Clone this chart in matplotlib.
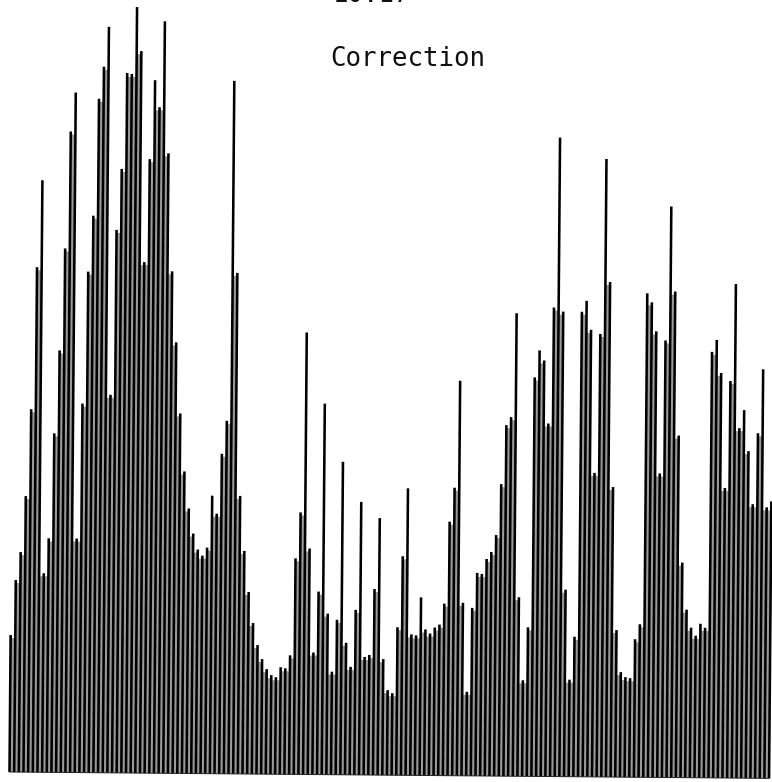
import matplotlib
matplotlib.use("Agg")
import matplotlib.pyplot as plt
import numpy as np
from matplotlib.transforms import Affine2D

heights = [
    137, 192, 220, 276, 363, 505, 592, 199, 234, 339, 422, 524, 641, 680,
    234, 369, 501, 557, 674, 706, 746, 378, 543, 604, 700, 699, 766, 722,
    511, 614, 693, 666, 752, 620, 502, 431, 360, 302, 265, 240, 224, 218,
    226, 278, 260, 320, 353, 693, 501, 278, 223, 182, 151, 129,
    115, 105, 99, 97, 107, 106, 119, 216, 262, 442, 226, 122, 183, 371,
    161, 103, 155, 313, 132, 108, 165, 273, 118, 120, 186, 257,
    116, 85, 82, 148, 219, 287, 141, 140, 178, 146, 142, 148, 151, 172,
    254, 288, 395, 173, 84, 168, 203, 202, 217, 224, 241, 292,
    351, 359, 463, 179, 96, 149, 399, 426, 416, 353, 469, 639, 465, 187,
    97, 140, 465, 476, 447, 304, 443, 618, 495, 290, 147,
    105, 100, 99, 138, 153, 484, 475, 446, 304, 437, 571, 486, 342, 215,
    168, 150, 142, 154, 150, 426, 438, 405, 290, 397, 494, 350, 368, 327,
    274, 345, 409, 271, 277,
]
title = "Correction"
page_mark = "10.17"

positions = np.arange(len(heights))
values = np.array(heights)

fig = plt.figure(figsize=(7.72, 7.82), dpi=100)
ax = fig.add_axes([0, 0, 1, 1])
ax.set_xlim(-9.5 / 4.66, (772 - 9.5) / 4.66)
ax.set_ylim(-10, 772)
ax.axis("off")

# the page was scanned slightly crooked, so turn everything about the first bar
cx, cy = ax.transData.transform((0, 0))
crooked = ax.transData + Affine2D().rotate_deg_around(cx, cy, -0.48)

gaps = np.minimum(values[:-1], values[1:]) - 3
ax.bar(positions[:-1] + 0.5, gaps, width=1.0, color="#9a9a9a", linewidth=0,
       transform=crooked, clip_on=False)
ax.vlines(positions, 0, values, color="black", linewidth=1.85,
          transform=crooked, clip_on=False)
ax.plot([positions[0], positions[-1]], [0, 0], color="#222222", linewidth=0.7,
        transform=crooked, clip_on=False)

fig.text(408 / 772, 1 - 65.5 / 782, title, family="DejaVu Sans Mono", fontsize=18.5,
         ha="center", va="baseline", color="#111111")
fig.text(372 / 772, 1 - 1.5 / 782, page_mark, family="DejaVu Sans Mono", fontsize=18.5,
         ha="center", va="baseline", color="#111111")

fig.savefig("out.png", dpi=100)
